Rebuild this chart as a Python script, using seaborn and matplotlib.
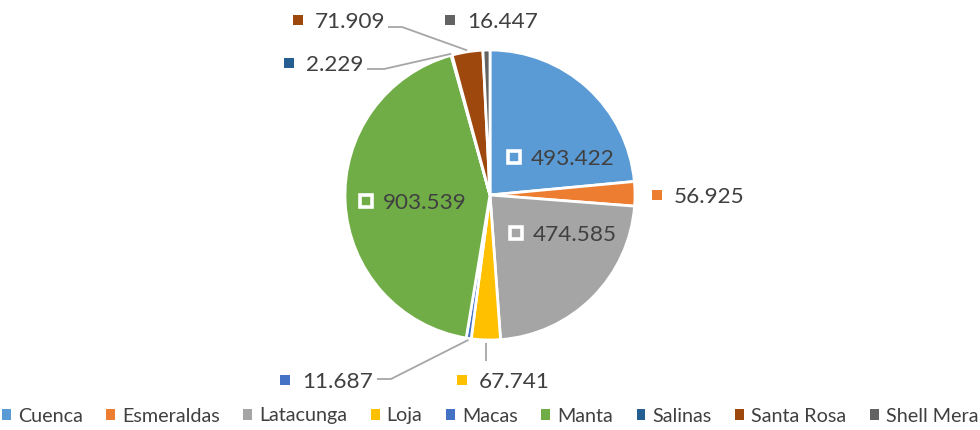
import numpy as np
import matplotlib
matplotlib.use("Agg")
import matplotlib.pyplot as plt
import seaborn as sns
from matplotlib.patches import Patch

sns.set_theme(style="white")
plt.rcParams['font.family'] = ['Lato', 'DejaVu Sans']

# ---- data ----
categories = ["Cuenca", "Esmeraldas", "Latacunga", "Loja", "Macas", "Manta",
              "Salinas", "Santa Rosa", "Shell Mera"]
values = [493.422, 56.925, 474.585, 67.741, 11.687, 903.539, 2.229, 71.909, 16.447]
value_labels = ["493.422", "56.925", "474.585", "67.741", "11.687", "903.539",
                "2.229", "71.909", "16.447"]
colors = ["#5B9BD5", "#ED7D31", "#A5A5A5", "#FFC000", "#4472C4", "#70AD47",
          "#255E91", "#9E480E", "#636363"]

W, H = 980, 430
fig = plt.figure(figsize=(W / 100, H / 100), dpi=100)
ax = fig.add_axes([0, 0, 1, 1])

cx, cy, R = 490, 430 - 195, 145
wedges, _ = ax.pie(values, colors=colors, startangle=90, counterclock=False,
                   center=(cx, cy), radius=R,
                   wedgeprops=dict(edgecolor="white", linewidth=2.0))
ax.set_xlim(0, W)
ax.set_ylim(0, H)
ax.set_aspect("equal")
ax.axis("off")

txt_color = "#404040"
line_color = "#A6A6A6"
fs = 16.2

# label layout (pixel coordinates, y from top): (key_x, y, inside, leader)
layout = {
    0: (514, 157, True, None),
    1: (657, 195, False, None),
    2: (516, 233, True, None),
    3: (462, 380, False, [(484, 361)]),
    4: (285, 380, False, [(377, 379), (391, 379)]),
    5: (366, 201, True, None),
    6: (289, 63, False, [(367, 69), (384, 69)]),
    7: (298, 20, False, [(388, 27), (402, 27)]),
    8: (450, 20, False, None),
}

for i, w in enumerate(wedges):
    kx, ky, inside, leader = layout[i]
    y = H - ky
    if inside:
        ax.plot(kx, y, marker="s", markersize=9, markerfacecolor="none",
                markeredgecolor="white", markeredgewidth=2.6)
    else:
        ax.plot(kx, y, marker="s", markersize=6.8, color=colors[i],
                markeredgewidth=0)
    ax.text(kx + 17, y, value_labels[i], fontsize=fs, color=txt_color,
            va="center_baseline", ha="left")
    if leader:
        mid = np.deg2rad((w.theta1 + w.theta2) / 2)
        ex = cx + R * 1.01 * np.cos(mid)
        ey = cy + R * 1.01 * np.sin(mid)
        pts = [(px, H - py) for px, py in leader] + [(ex, ey)]
        if i == 3:
            pts = [(ex, ey - 2), (ex, H - 361)]
        xs, ys = zip(*pts)
        ax.plot(xs, ys, color=line_color, lw=1.3, solid_capstyle="butt")

handles = [Patch(facecolor=c, edgecolor="none") for c in colors]
fig.legend(handles, categories, loc="center", bbox_to_anchor=(0.5, 1 - 416 / H),
           ncol=len(categories), frameon=False, fontsize=14.2,
           handlelength=0.45, handleheight=0.45, handletextpad=0.35,
           columnspacing=1.2, labelcolor=txt_color)

fig.savefig("out.png", dpi=100, facecolor="white")
